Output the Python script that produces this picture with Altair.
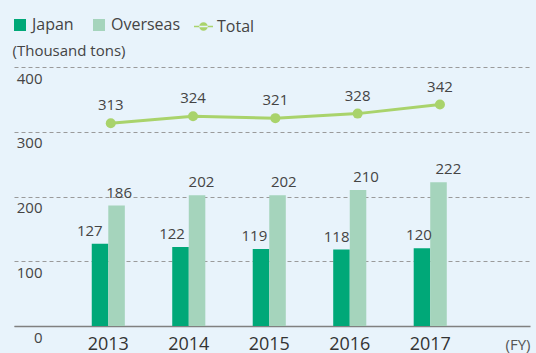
import altair as alt
import pandas as pd

# Shipment volume by fiscal year (thousand tons)
years = ["2013", "2014", "2015", "2016", "2017"]
japan = [127, 122, 119, 118, 120]
overseas = [186, 202, 202, 210, 222]
total = [313, 324, 321, 328, 342]
series = ["Japan", "Overseas"]

bar_colors = ["#00a878", "#a5d4bc"]
total_color = "#a9d36b"
FONT = "Open Sans"
TEXT = "#444444"

bars_df = pd.DataFrame({
    "year": years * 2,
    "series": ["Japan"] * len(years) + ["Overseas"] * len(years),
    "value": japan + overseas,
})
total_df = pd.DataFrame({"year": years, "series": ["Total"] * len(years), "value": total})

y = alt.Y(
    "value:Q",
    scale=alt.Scale(domain=[0, 400], nice=False, zero=True),
    axis=alt.Axis(
        values=[0, 100, 200, 300, 400],
        title="(Thousand tons)", titleAngle=0, titleX=-2, titleY=-12,
        titleAlign="left", titleBaseline="alphabetic", titleFont=FONT,
        titleFontSize=15, titleFontWeight="normal", titleColor=TEXT,
        labelAlign="right", labelBaseline="middle", labelPadding=-28,
        labelOffset=11, labelFont=FONT, labelFontSize=15, labelColor=TEXT,
        ticks=False, domain=False, grid=True, gridDash=[4, 3],
        gridColor="#9a9a9a", gridWidth=1,
    ),
)

x_band = alt.X(
    "year:N", sort=years,
    scale=alt.Scale(domain=years, paddingInner=0.589, paddingOuter=1, align=0.483),
    axis=alt.Axis(
        title="(FY)", titleX=516, titleY=23, titleAlign="right",
        titleBaseline="alphabetic", titleFont=FONT, titleFontSize=15,
        titleFontWeight="normal", titleColor="#555555",
        labelAngle=0, labelFont=FONT, labelFontSize=18, labelColor="#333333",
        labelBaseline="alphabetic", labelPadding=23, ticks=False,
        domainColor="#808080", domainWidth=1.5, grid=False,
    ),
)

# The total line and the value labels sit on a slightly wider-spaced band scale
x_line = alt.X(
    "year:N", sort=years,
    scale=alt.Scale(type="band", domain=years, paddingInner=0, paddingOuter=0.635, align=0.532),
    axis=None,
)

bars = alt.Chart(bars_df).mark_bar().encode(
    x=x_band,
    xOffset=alt.XOffset("series:N", scale=alt.Scale(domain=series, paddingInner=0, paddingOuter=0)),
    y=y,
    fill=alt.Fill(
        "series:N",
        scale=alt.Scale(domain=series, range=bar_colors),
        legend=alt.Legend(
            title=None, orient="none", legendX=-2, legendY=-50,
            direction="horizontal", symbolType="square", symbolSize=144,
            symbolStrokeWidth=0, labelFont=FONT, labelFontSize=16,
            labelColor=TEXT, labelOffset=4, columnPadding=17, padding=0,
        ),
    ),
)

line = alt.Chart(total_df).mark_line(color=total_color, strokeWidth=3).encode(
    x=x_line, y=y
)

line_symbol = (
    "M-1,-0.09L1,-0.09L1,0.09L-1,0.09Z "
    "M-0.45,0A0.45,0.45 0 1,0 0.45,0A0.45,0.45 0 1,0 -0.45,0Z"
)

points = alt.Chart(total_df).mark_point(filled=True, size=100, opacity=1).encode(
    x=x_line,
    y=y,
    color=alt.Color(
        "series:N",
        scale=alt.Scale(domain=["Total"], range=[total_color]),
        legend=alt.Legend(
            title=None, orient="none", legendX=180, legendY=-50,
            direction="horizontal", symbolType=line_symbol, symbolSize=361,
            symbolStrokeWidth=0, labelFont=FONT, labelFontSize=16,
            labelColor=TEXT, labelOffset=4, padding=0,
        ),
    ),
)

total_labels = alt.Chart(total_df).mark_text(
    font=FONT, fontSize=15, color=TEXT, baseline="alphabetic", dy=-13
).encode(x=x_line, y=y, text="value:Q")

japan_labels = alt.Chart(bars_df).transform_filter(
    alt.datum.series == "Japan"
).mark_text(
    font=FONT, fontSize=15, color=TEXT, baseline="alphabetic", dx=-21, dy=-8
).encode(x=x_line, y=y, text="value:Q")

overseas_labels = alt.Chart(bars_df).transform_filter(
    alt.datum.series == "Overseas"
).mark_text(
    font=FONT, fontSize=15, color=TEXT, baseline="alphabetic", dx=8.4, dy=-8
).encode(x=x_line, y=y, text="value:Q")

overlay = alt.layer(line, points, total_labels, japan_labels, overseas_labels)

chart = (
    alt.layer(bars, overlay)
    .resolve_scale(x="independent")
    .properties(
        width=516, height=259,
        padding={"left": 14, "top": 67, "right": 6, "bottom": 27},
        autosize=alt.AutoSizeParams(type="none"),
    )
    .configure(background="#e8f3fb")
    .configure_view(strokeOpacity=0)
)

chart.save("out.html", embed_options={"renderer": "svg", "actions": False})
